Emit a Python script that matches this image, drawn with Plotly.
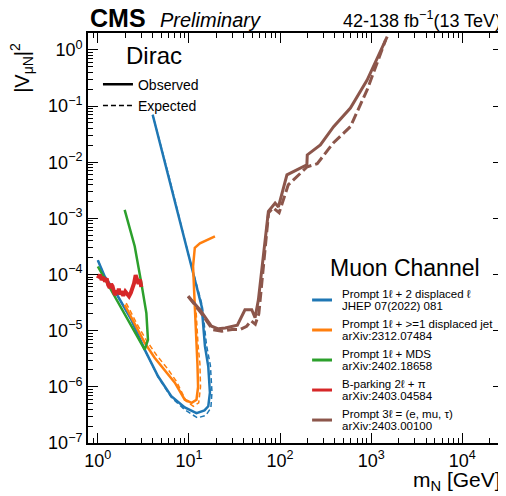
import numpy as np
import plotly.graph_objects as go

# --- values (mass in GeV, |V_muN|^2) ---
blue_obs_m = [1.0, 1.19, 1.66, 2.33, 3.27, 4.58, 6.4, 9.0, 12.1, 14.8, 16.3, 17.0, 16.3, 15.0, 13.8, 10.0, 6.16, 4.0]
blue_obs_v = [1.8e-4, 9.2e-5, 4.1e-5, 1.57e-5, 4.6e-6, 1.54e-6, 6.8e-7, 4.3e-7, 3.4e-7, 3.8e-7, 4.5e-7, 7.9e-7,
              2.3e-6, 5.25e-6, 2.7e-5, 2.1e-4, 4.9e-3, 0.07]
blue_exp_m = [1.0, 1.19, 1.66, 2.33, 3.27, 4.58, 6.4, 9.0, 12.4, 15.3, 17.4, 17.9, 17.2, 15.6, 14.0, 10.0, 6.16, 4.0]
blue_exp_v = [1.8e-4, 9.2e-5, 4.1e-5, 1.57e-5, 4.6e-6, 1.5e-6, 6.5e-7, 3.9e-7, 2.8e-7, 3.1e-7, 4.2e-7, 8.0e-7,
              2.4e-6, 5.5e-6, 2.8e-5, 2.1e-4, 4.9e-3, 0.07]

orange_obs_m = [1.97, 2.6, 3.27, 4.2, 5.43, 7.0, 9.0, 10.7, 12.1, 12.6, 12.4, 12.1, 11.6, 11.1, 11.6, 13.2, 19.3]
orange_obs_v = [2.9e-5, 1.2e-5, 6.1e-6, 3.3e-6, 2.0e-6, 1.19e-6, 5.9e-7, 5.2e-7, 5.9e-7, 1.0e-6, 2.5e-6, 5.3e-6,
                2.7e-5, 1.4e-4, 3.0e-4, 3.6e-4, 4.8e-4]
orange_exp_m = [2.05, 2.7, 3.4, 4.4, 5.7, 7.3, 9.3, 11.2, 12.8, 13.4, 13.2, 12.6, 11.9]
orange_exp_v = [3.1e-5, 1.3e-5, 6.8e-6, 3.7e-6, 2.2e-6, 1.25e-6, 5.6e-7, 4.5e-7, 5.2e-7, 1.0e-6, 2.6e-6, 5.5e-6, 2.7e-5]

green_m = [1.0, 1.3, 1.66, 2.33, 3.27, 3.55, 3.41, 3.0, 2.54, 1.97]
green_v = [1.39e-4, 6.5e-5, 3.1e-5, 1.19e-5, 4.6e-6, 6.9e-6, 2.06e-5, 7.1e-5, 3.2e-4, 1.42e-3]

red_m = [1.0, 1.05, 1.1, 1.15, 1.2, 1.25, 1.3, 1.35, 1.4, 1.45, 1.5, 1.55, 1.6, 1.65, 1.7, 1.75, 1.8, 1.9,
         2.0, 2.1, 2.2, 2.3, 2.4, 2.5, 2.6, 2.7, 2.8, 2.9, 3.0]
red_v = [8.5e-5, 1.0e-4, 8.0e-5, 9.0e-5, 7.5e-5, 8.5e-5, 6.5e-5, 5.8e-5, 6.8e-5, 6.2e-5, 5.0e-5, 4.3e-5, 5.2e-5,
         4.6e-5, 5.6e-5, 4.4e-5, 5.0e-5, 4.2e-5, 5.0e-5, 4.5e-5, 4.1e-5, 4.7e-5, 5.5e-5, 7.0e-5, 9.8e-5, 7.5e-5,
         6.8e-5, 8.2e-5, 6.0e-5]

brown_obs_m = [9.8, 13.2, 17.7, 21.0, 25.0, 29.5, 34.0, 41.2, 48.9, 53.2, 57.8, 74.5, 88.3, 96.0, 119, 197, 199,
               277, 387, 592, 903, 1500]
brown_obs_v = [4.1e-5, 2.36e-5, 1.2e-5, 1.08e-5, 1.12e-5, 1.17e-5, 1.25e-5, 2.36e-5, 2.36e-5, 1.7e-5, 3.5e-5,
               1.33e-3, 1.87e-3, 1.6e-3, 5.97e-3, 9.0e-3, 1.35e-2, 2.04e-2, 4.3e-2, 0.092, 0.29, 1.72]
brown_exp_m = [9.8, 13.2, 18.3, 23.0, 29.7, 36.4, 43.0, 48.0, 53.5, 58.5, 74.9, 84, 97.7, 123, 199, 256, 384,
               592, 903, 1440]
brown_exp_v = [4.1e-5, 2.2e-5, 1.04e-5, 9.8e-6, 1.05e-5, 1.05e-5, 1.2e-5, 1.5e-5, 1.3e-5, 2.0e-5, 1.26e-3,
               1.55e-3, 1.26e-3, 3.96e-3, 8.3e-3, 9.4e-3, 2.2e-2, 0.043, 0.194, 1.5]

analyses = ["Prompt 1ℓ + 2 displaced ℓ", "Prompt 1ℓ + &gt;=1 displaced jet", "Prompt 1ℓ + MDS",
            "B-parking 2ℓ + π", "Prompt 3ℓ = (e, mu, τ)"]
references = ["JHEP 07(2022) 081", "arXiv:2312.07484", "arXiv:2402.18658", "arXiv:2403.04584", "arXiv:2403.00100"]
colors = ["#1f77b4", "#ff7f0e", "#2ca02c", "#d62728", "#8c564b"]

x_major = [1, 10, 100, 1000, 10000]
x_text = ["10<sup>0</sup>", "10<sup>1</sup>", "10<sup>2</sup>", "10<sup>3</sup>", "10<sup>4</sup>"]
y_major = [1e-7, 1e-6, 1e-5, 1e-4, 1e-3, 1e-2, 1e-1, 1]
y_text = ["10<sup>−7</sup>", "10<sup>−6</sup>", "10<sup>−5</sup>", "10<sup>−4</sup>", "10<sup>−3</sup>",
          "10<sup>−2</sup>", "10<sup>−1</sup>", "10<sup>0</sup>"]

FONT = "Liberation Sans, Arial, sans-serif"

fig = go.Figure()

obs = [(blue_obs_m, blue_obs_v, 2.5), (orange_obs_m, orange_obs_v, 2.5), (green_m, green_v, 2.5),
       (red_m, red_v, 4), (brown_obs_m, brown_obs_v, 3)]
exp = {0: (blue_exp_m, blue_exp_v, 1.5, "5px,3px"), 1: (orange_exp_m, orange_exp_v, 1.5, "5px,3px"),
       4: (brown_exp_m, brown_exp_v, 3, "10px,4px")}

for i, (m, v, w) in enumerate(obs):
    if i in exp:
        em, ev, ew, dash = exp[i]
        fig.add_trace(go.Scatter(x=em, y=ev, mode="lines", line=dict(color=colors[i], width=ew, dash=dash),
                                 showlegend=False, hoverinfo="skip"))
    fig.add_trace(go.Scatter(x=m, y=v, mode="lines", name=analyses[i], line=dict(color=colors[i], width=w),
                             showlegend=False))

# style legend (observed / expected)
fig.add_trace(go.Scatter(x=[None], y=[None], mode="lines", name="Observed",
                         line=dict(color="black", width=2.5), legend="legend2"))
fig.add_trace(go.Scatter(x=[None], y=[None], mode="lines", name="Expected",
                         line=dict(color="black", width=1.5, dash="5px,3px"), legend="legend2"))

minor_x = [k * 10.0 ** n for n in range(-1, 5) for k in range(2, 10)]
minor_y = [k * 10.0 ** n for n in range(-8, 1) for k in range(2, 10)]

axis_common = dict(showline=True, linecolor="black", linewidth=1.8, mirror="ticks", ticks="inside",
                   ticklen=10, tickwidth=1, tickcolor="black", showgrid=False, zeroline=False,
                   automargin=False, tickfont=dict(family=FONT, size=18, color="black"))

fig.update_xaxes(type="log", range=[np.log10(0.78), np.log10(2.8e4)], tickmode="array",
                 tickvals=x_major, ticktext=x_text,
                 minor=dict(tickmode="array", tickvals=minor_x, ticks="inside", ticklen=5,
                            tickcolor="black", showgrid=False), **axis_common)
fig.update_yaxes(type="log", range=[-7, np.log10(2.0)], tickmode="array",
                 tickvals=y_major, ticktext=y_text,
                 minor=dict(tickmode="array", tickvals=minor_y, ticks="inside", ticklen=5,
                            tickcolor="black", showgrid=False), **axis_common)

ann = [
    dict(text="<b>CMS</b>", x=0, y=1, xanchor="left", yanchor="bottom", yshift=-1, font=dict(size=25)),
    dict(text="<i>Preliminary</i>", x=0.168, y=1, xanchor="left", yanchor="bottom", font=dict(size=20)),
    dict(text="42-138 fb<sup>−1</sup>(13 TeV)", x=1, y=1, xanchor="right", yanchor="bottom",
         font=dict(size=18)),
    dict(text="Dirac", x=0.0867, y=0.944, xanchor="left", yanchor="middle", font=dict(size=24)),
    dict(text="Muon Channel", x=0.578, y=0.427, xanchor="left", yanchor="middle", font=dict(size=23)),
    dict(text="|V<sub>μN</sub>|<sup>2</sup>", x=-0.159, y=0.915, xanchor="center", yanchor="middle",
         textangle=-90, font=dict(size=20)),
    dict(text="m<sub>N</sub> [GeV]", x=1, y=-0.0927, xanchor="right", yanchor="middle", font=dict(size=21)),
]

# "Muon Channel" legend: a short line sample plus two tight text lines per analysis
shapes = []
for i in range(len(analyses)):
    yc = 0.3488 - i * 0.0732
    shapes.append(dict(type="line", xref="paper", yref="paper", x0=0.540, x1=0.588, y0=yc, y1=yc,
                       line=dict(color=colors[i], width=3)))
    ann.append(dict(text=analyses[i], x=0.607, y=yc + 0.0152, xanchor="left", yanchor="middle",
                    font=dict(size=11.5)))
    ann.append(dict(text=references[i], x=0.607, y=yc - 0.0152, xanchor="left", yanchor="middle",
                    font=dict(size=11.5)))

for a in ann:
    a.update(xref="paper", yref="paper", showarrow=False)
    a["font"].update(family=FONT, color="black")

# the page body adds an 8px offset, so the figure is 8px smaller than the window
fig.update_layout(
    width=498, height=488,
    margin=dict(l=80, r=3, t=25, b=53),
    paper_bgcolor="white", plot_bgcolor="white",
    font=dict(family=FONT, color="black"),
    annotations=ann,
    shapes=shapes,
    legend2=dict(x=0.024, y=0.913, xanchor="left", yanchor="top", bgcolor="rgba(0,0,0,0)",
                 font=dict(family=FONT, size=14), itemwidth=30),
)

fig.write_html("out.html")
